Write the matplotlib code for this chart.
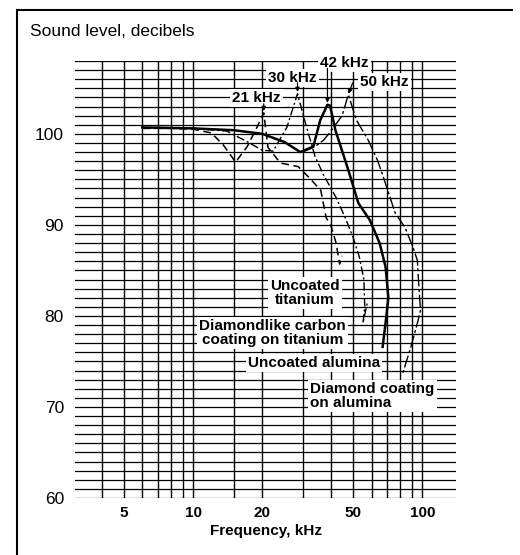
import matplotlib
matplotlib.use("Agg")
import matplotlib.pyplot as plt
from matplotlib.lines import Line2D
from matplotlib.ticker import FixedLocator, NullFormatter, NullLocator

plt.rcParams['font.family'] = ['Liberation Sans', 'DejaVu Sans']

# Uncoated titanium (resonance near 21 kHz)
ti_freq = [6, 8, 10, 12, 13.5, 15.3, 17.2, 19.2, 20.3, 21.2, 24, 28.7, 32, 36, 38, 40, 42, 43.5, 44.5]
ti_db = [100.6, 100.6, 100.5, 100.1, 98.8, 96.9, 98.6, 101, 102.3, 98.5, 96.8, 96.4, 95.2, 93.8, 90.8, 89.8, 88, 85.7, 86.6]

# Diamondlike carbon coating on titanium (resonance near 30 kHz)
dlc_freq = [6, 10, 14, 17, 20, 22.3, 25.6, 28.5, 31, 34, 37, 42, 46, 50, 53, 55.5, 56, 55, 57.5]
dlc_db = [100.6, 100.6, 100.3, 99.2, 98.2, 98.1, 100.7, 104.4, 101, 97.5, 95.5, 93, 90.8, 88.5, 86.5, 84, 81, 79.2, 81.5]

# Uncoated alumina (resonance near 42 kHz)
al_freq = [6, 10, 15, 20, 25, 29.3, 33.4, 35.8, 38.5, 39.5, 41.7, 47.5, 52.5, 59, 65, 69, 71, 69, 67]
al_db = [100.7, 100.6, 100.4, 100, 99.1, 98, 98.6, 101.5, 103.2, 103.1, 100.4, 96, 92.4, 90.5, 88, 85.4, 82, 79.2, 76.6]

# Diamond coating on alumina (resonance near 50 kHz)
da_freq = [30, 34, 37, 39.6, 44.6, 47.5, 51.5, 58, 63.6, 67, 76, 84, 91, 95, 96, 98, 95, 89, 82]
da_db = [98, 98.6, 99.3, 100.2, 102, 104.3, 101.5, 99.3, 97.1, 95.5, 91.3, 89.7, 87.5, 86.1, 84, 80.6, 79.2, 76.6, 73.7]

grid_freqs = [4, 5, 6, 7, 8, 9, 10, 15, 20, 30, 40, 50, 60, 70, 80, 90, 100]
x_ticks = [5, 10, 20, 50, 100]
y_ticks = [60, 70, 80, 90, 100]

fig = plt.figure(figsize=(5.2, 5.55), dpi=100)
ax = fig.add_axes([75 / 520, 57 / 555, 381 / 520, 437 / 555])

ax.set_xscale('log')
ax.set_xlim(3.05, 140)
ax.set_ylim(60, 108)

# graph-paper grid
for f in grid_freqs:
    ax.axvline(f, color='black', linewidth=1.0, zorder=1)
for d in range(60, 109):
    ax.axhline(d, color='black', linewidth=0.9, zorder=1)

ax.plot(ti_freq, ti_db, color='black', linewidth=1.1, dashes=(5, 3), zorder=3)
ax.plot(dlc_freq, dlc_db, color='black', linewidth=1.0, dashes=(6, 2, 1.5, 2), zorder=3)
ax.plot(al_freq, al_db, color='black', linewidth=1.8, zorder=4)
ax.plot(da_freq, da_db, color='black', linewidth=1.0, dashes=(9, 2, 2, 2), zorder=3)

ax.xaxis.set_major_locator(FixedLocator(x_ticks))
ax.xaxis.set_minor_locator(NullLocator())
ax.xaxis.set_minor_formatter(NullFormatter())
ax.set_xticklabels([str(t) for t in x_ticks], fontsize=11, fontweight='bold')
ax.set_yticks(y_ticks)
ax.set_yticklabels([str(t) for t in y_ticks], fontsize=12.5)
ax.tick_params(length=0)
ax.tick_params(axis='x', pad=6)
ax.tick_params(axis='y', pad=8)
for s in ax.spines.values():
    s.set_visible(False)

ax.set_xlabel('Frequency, kHz', fontsize=11, fontweight='bold', labelpad=3)
fig.text(30 / 520, 1 - 32 / 555, 'Sound level, decibels', fontsize=12.5, va='center', ha='left')

box = dict(facecolor='white', edgecolor='none', pad=1.5)
peak_kw = dict(fontsize=11, fontweight='bold', ha='center', va='center', bbox=box, zorder=6)
arrow = dict(arrowstyle='-|>', color='black', lw=0.9, mutation_scale=6, shrinkA=0, shrinkB=0)

ax.text(18.9, 103.9, '21 kHz', **peak_kw)
ax.text(27.1, 106.1, '30 kHz', **peak_kw)
ax.text(45.6, 107.8, '42 kHz', clip_on=False, **peak_kw)
ax.text(68.4, 105.7, '50 kHz', **peak_kw)
ax.annotate('', xy=(20.3, 102.5), xytext=(20.3, 103.3), arrowprops=arrow, zorder=7)
ax.annotate('', xy=(28.5, 104.6), xytext=(28.5, 105.6), arrowprops=arrow, zorder=7)
ax.annotate('', xy=(38.5, 103.4), xytext=(38.5, 107.2), arrowprops=arrow, zorder=7)
ax.annotate('', xy=(47.5, 104.4), xytext=(49.6, 105.6), arrowprops=arrow, zorder=7)

lab_kw = dict(fontsize=11, fontweight='bold', va='center', bbox=box, zorder=6, linespacing=1.0)
ax.text(30.8, 82.5, 'Uncoated\ntitanium', ha='center', **lab_kw)
ax.text(22.1, 78.1, 'Diamondlike carbon\ncoating on titanium', ha='center', **lab_kw)
ax.text(33.7, 74.8, 'Uncoated alumina', ha='center', **lab_kw)
ax.text(32.4, 71.2, 'Diamond coating\non alumina', ha='left', **lab_kw)

# frame around the figure
fig.add_artist(Line2D([17 / 520, 17 / 520], [0, 1 - 10 / 555], color='black', linewidth=1.5))
fig.add_artist(Line2D([17 / 520, 512 / 520], [1 - 10 / 555, 1 - 10 / 555], color='black', linewidth=1.5))

fig.savefig('out.png', dpi=100)
